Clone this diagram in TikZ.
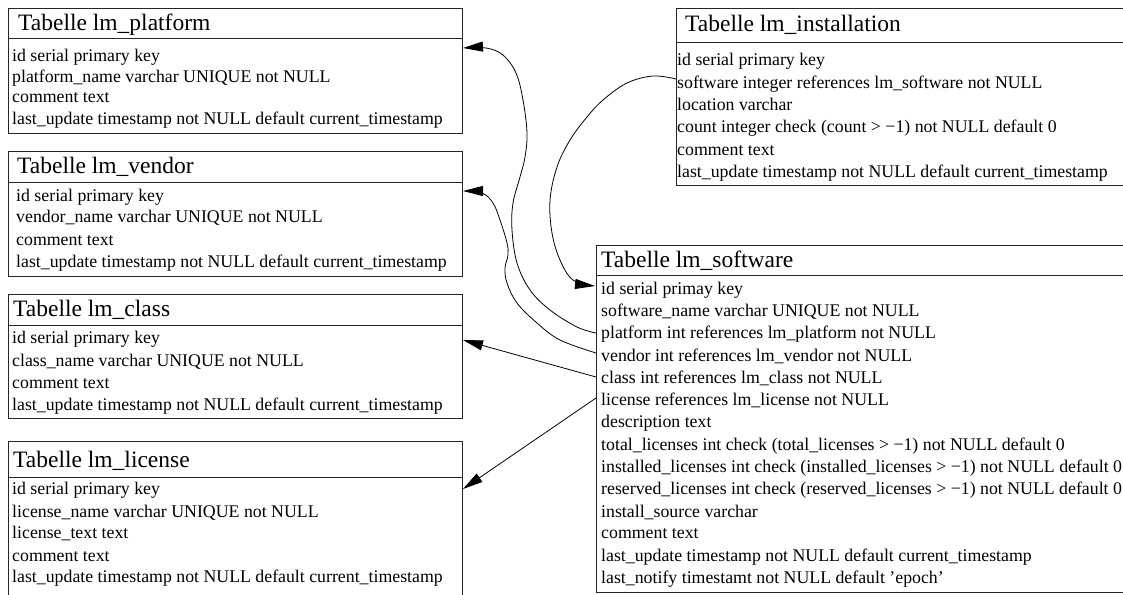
\documentclass[tikz,border=0pt]{standalone}
\usepackage{fontspec}
\setmainfont{Liberation Serif}
\usetikzlibrary{arrows.meta}
\begin{document}
\begin{tikzpicture}[x=1pt,y=-1pt,
  tbox/.style={draw=black!85,line width=1pt,anchor=north west,inner sep=0pt},
  tdiv/.style={draw=black!85,line width=1pt},
  ttitle/.style={anchor=base west,inner sep=0pt,font=\fontsize{23.5}{26}\selectfont},
  trow/.style={anchor=base west,inner sep=0pt,font=\fontsize{17.8}{20}\selectfont},
  fk/.style={draw=black,line width=0.8pt,-{Triangle[length=20pt,width=10pt]}}]
\useasboundingbox (0,0) rectangle (1123,594);
\clip (0,0) rectangle (1123,594);

% ---------- lm_platform
\node[tbox,minimum width=454,minimum height=125] (platform) at (8,8) {};
\draw[tdiv] (8,39) -- (462,39);
\node[ttitle] (platform-t) at (18,31) {Tabelle lm\_platform};
\node[trow] (platform-1) at (12,61) {id serial primary key};
\node[trow] (platform-2) at (12,82) {platform\_name varchar UNIQUE not NULL};
\node[trow] (platform-3) at (12,102) {comment text};
\node[trow] (platform-4) at (12,124) {last\_update timestamp not NULL default current\_timestamp};

% ---------- lm_vendor
\node[tbox,minimum width=454,minimum height=125] (vendor) at (8,151) {};
\draw[tdiv] (8,182) -- (462,182);
\node[ttitle] (vendor-t) at (17,173) {Tabelle lm\_vendor};
\node[trow] (vendor-1) at (16,201) {id serial primary key};
\node[trow] (vendor-2) at (16,222) {vendor\_name varchar UNIQUE not NULL};
\node[trow] (vendor-3) at (16,245) {comment text};
\node[trow] (vendor-4) at (16,267) {last\_update timestamp not NULL default current\_timestamp};

% ---------- lm_class
\node[tbox,minimum width=454,minimum height=124] (class) at (8,294) {};
\draw[tdiv] (8,325) -- (462,325);
\node[ttitle] (class-t) at (13,316) {Tabelle lm\_class};
\node[trow] (class-1) at (12,343) {id serial primary key};
\node[trow] (class-2) at (12,366) {class\_name varchar UNIQUE not NULL};
\node[trow] (class-3) at (12,388) {comment text};
\node[trow] (class-4) at (12,410) {last\_update timestamp not NULL default current\_timestamp};

% ---------- lm_license
\node[tbox,minimum width=454,minimum height=165] (license) at (8,441) {};
\draw[tdiv] (8,477) -- (462,477);
\node[ttitle] (license-t) at (13,467) {Tabelle lm\_license};
\node[trow] (license-1) at (12,494) {id serial primary key};
\node[trow] (license-2) at (12,517) {license\_name varchar UNIQUE not NULL};
\node[trow] (license-3) at (12,538) {license\_text text};
\node[trow] (license-4) at (12,561) {comment text};
\node[trow] (license-5) at (12,582) {last\_update timestamp not NULL default current\_timestamp};

% ---------- lm_installation
\node[tbox,minimum width=470,minimum height=177] (install) at (676,8) {};
\draw[tdiv] (676,43) -- (1146,43);
\node[ttitle] (install-t) at (685,32) {Tabelle lm\_installation};
\node[trow] (install-1) at (677,65) {id serial primary key};
\node[trow] (install-2) at (677,88) {software integer references lm\_software not NULL};
\node[trow] (install-3) at (677,110) {location varchar};
\node[trow] (install-4) at (677,132) {count integer check (count > −1) not NULL default 0};
\node[trow] (install-5) at (677,155) {comment text};
\node[trow] (install-6) at (677,177) {last\_update timestamp not NULL default current\_timestamp};

% ---------- lm_software
\node[tbox,minimum width=550,minimum height=347] (software) at (596,245) {};
\draw[tdiv] (596,275) -- (1146,275);
\node[ttitle] (software-t) at (601,267) {Tabelle lm\_software};
\node[trow] (software-1) at (601,294) {id serial primay key};
\node[trow] (software-2) at (601,316) {software\_name varchar UNIQUE not NULL};
\node[trow] (software-3) at (601,338) {platform int references lm\_platform not NULL};
\node[trow] (software-4) at (601,361) {vendor int references lm\_vendor not NULL};
\node[trow] (software-5) at (601,383) {class int references lm\_class not NULL};
\node[trow] (software-6) at (601,405) {license references lm\_license not NULL};
\node[trow] (software-7) at (601,427) {description text};
\node[trow] (software-8) at (601,450) {total\_licenses int check (total\_licenses > −1) not NULL default 0};
\node[trow] (software-9) at (601,472) {installed\_licenses int check (installed\_licenses > −1) not NULL default 0};
\node[trow] (software-10) at (601,494) {reserved\_licenses int check (reserved\_licenses > −1) not NULL default 0};
\node[trow] (software-11) at (601,517) {install\_source varchar};
\node[trow] (software-12) at (601,538) {comment text};
\node[trow] (software-13) at (601,561) {last\_update timestamp not NULL default current\_timestamp};
\node[trow] (software-14) at (601,583) {last\_notify timestamt not NULL default ’epoch’};

% ---------- ports
\coordinate (p-platform) at (463,48);
\coordinate (p-vendor) at (463,191);
\coordinate (p-class) at (463,340);
\coordinate (p-license) at (463,489);
\coordinate (p-install) at (676,79);
\coordinate (p-sw-id) at (595,286);
\coordinate (p-sw-plat) at (596,333);
\coordinate (p-sw-vend) at (596,353);
\coordinate (p-sw-class) at (596,377);
\coordinate (p-sw-lic) at (596,398);

% ---------- connectors
\draw[fk] plot[smooth,tension=0.6] coordinates {(p-install) (653,76) (627,83) (603,100) (587,117) (570,140) (557,167) (550,200) (552,233) (560,260) (573,280) (p-sw-id)};
\draw[fk] plot[smooth,tension=0.6] coordinates {(p-sw-plat) (577,327) (550,310) (530,290) (517,263) (512,230) (513,203) (520,177) (525,157) (527,133) (523,100) (516,73) (503,55) (486,48) (p-platform)};
\draw[fk] plot[smooth,tension=0.6] coordinates {(p-sw-vend) (560,340) (537,323) (517,303) (507,283) (505,268) (508,255) (507,243) (500,220) (493,203) (482,193) (p-vendor)};
\draw[fk] (p-sw-class) -- (p-class);
\draw[fk] (p-sw-lic) -- (p-license);
\end{tikzpicture}
\end{document}
